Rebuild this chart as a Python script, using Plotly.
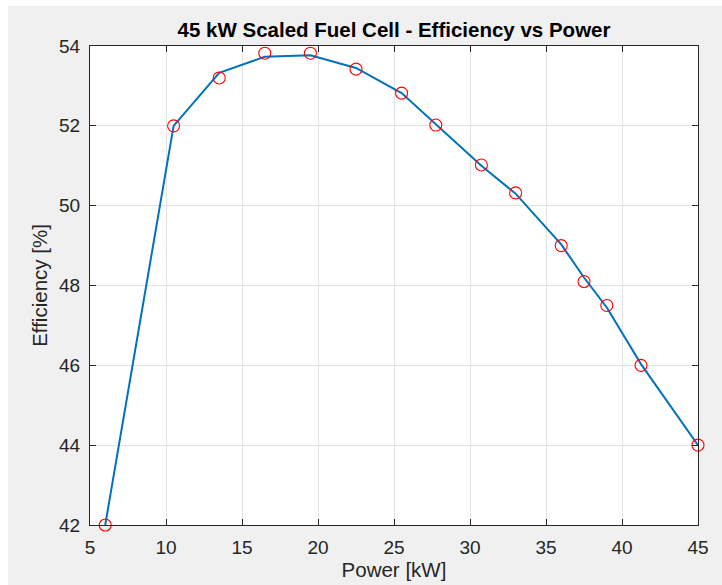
import plotly.graph_objects as go

power_kw = [6, 10.5, 13.5, 16.5, 19.5, 22.5, 25.5, 27.75, 30.75, 33, 36, 37.5, 39, 41.25, 45]
efficiency_pct = [42, 52, 53.2, 53.82, 53.82, 53.42, 52.82, 52.02, 51.02, 50.32, 49.0, 48.1, 47.5, 46.0, 44.0]
fit_pct = [42, 52, 53.33, 53.73, 53.77, 53.45, 52.82, 52.05, 51.0, 50.3, 49.03, 48.2, 47.45, 46.03, 44.0]

x_ticks = [5, 10, 15, 20, 25, 30, 35, 40, 45]
y_ticks = [42, 44, 46, 48, 50, 52, 54]

FONT = "Liberation Sans, Arial, Helvetica, sans-serif"
AX = "#262626"

fig = go.Figure()
fig.add_trace(go.Scatter(x=power_kw, y=fit_pct, mode="lines",
                         line=dict(color="#0072BD", width=2), showlegend=False, hoverinfo="skip"))
fig.add_trace(go.Scatter(x=power_kw, y=efficiency_pct, mode="markers",
                         marker=dict(symbol="circle-open", size=12, color="#FF0000", line=dict(width=1.1)),
                         showlegend=False, cliponaxis=False))

axis_common = dict(showline=True, linecolor=AX, linewidth=1, mirror="allticks",
                   ticks="inside", ticklen=6, tickcolor=AX, tickwidth=1,
                   showgrid=True, gridcolor="#e3e3e3", gridwidth=1, zeroline=False,
                   automargin=False,
                   tickfont=dict(family=FONT, size=19, color=AX))

fig.update_xaxes(range=[5, 45], tickvals=x_ticks, ticktext=[str(v) for v in x_ticks],
                 title=dict(text="Power [kW]", font=dict(family=FONT, size=20.5, color=AX), standoff=4),
                 ticklabelstandoff=5, **axis_common)
fig.update_yaxes(range=[42, 54], tickvals=y_ticks, ticktext=[str(v) for v in y_ticks],
                 title=dict(text="Efficiency [%]", font=dict(family=FONT, size=20.5, color=AX), standoff=5),
                 ticklabelstandoff=5, **axis_common)

fig.update_layout(
    width=722, height=585,
    margin=dict(l=90, r=24, t=46, b=60),
    paper_bgcolor="#F0F0F0", plot_bgcolor="#FFFFFF",
    title=dict(text="<b>45 kW Scaled Fuel Cell - Efficiency vs Power</b>",
               font=dict(family=FONT, size=20.5, color="#000000"),
               x=394/722, xanchor="center", y=1 - 30/585, yanchor="middle"),
    shapes=[
        dict(type="rect", xref="paper", yref="paper", x0=-0.2, x1=1.1,
             y0=(525 - 6) / 479, y1=1.2, fillcolor="#FFFFFF", line=dict(width=0), layer="below"),
        dict(type="rect", xref="paper", yref="paper", x0=-0.2, x1=(8 - 90) / 608,
             y0=-0.2, y1=1.2, fillcolor="#FFFFFF", line=dict(width=0), layer="below"),
    ],
)

fig.write_html("out.html")
